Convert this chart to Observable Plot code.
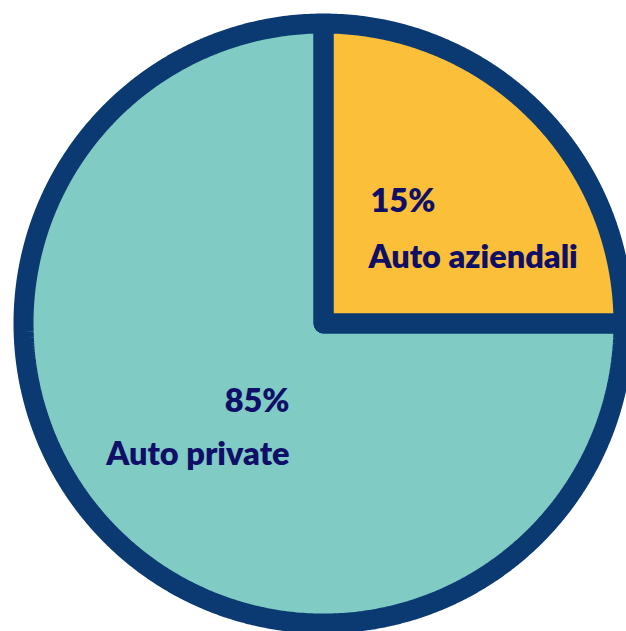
<!DOCTYPE html>
<html>
<head>
<meta charset="utf-8">
<script src="https://cdn.jsdelivr.net/npm/d3@7"></script>
<script src="https://cdn.jsdelivr.net/npm/@observablehq/plot@0.6"></script>
<style>
  html, body { margin: 0; padding: 0; background: #ffffff; }
  #chart svg { display: block; }
</style>
</head>
<body>
<div id="chart"></div>
<script>
// ---- data ----
const categories = ["Auto aziendali", "Auto private"];
const percentLabels = ["15%", "85%"];
// share of the circle each slice occupies as drawn in the picture (a quarter vs. the rest)
const drawnShares = [25, 75];
const sliceColors = ["#fbbf3a", "#80cbc4"];

// ---- build slice polygons (in pixel-like units, origin at pie centre, y up) ----
const W = 626, H = 631;
const cx = 323, cy = 323;   // pie centre in pixels
const R = 300;              // radius to middle of the border stroke

const arcs = d3.pie().sort(null).value(d => d)(drawnShares);
const polyPoints = [];
arcs.forEach((a, i) => {
  const name = categories[i];
  polyPoints.push({slice: name, x: 0, y: 0});
  const steps = Math.max(8, Math.ceil((a.endAngle - a.startAngle) / 0.01));
  for (let k = 0; k <= steps; k++) {
    const t = a.startAngle + (a.endAngle - a.startAngle) * k / steps;
    polyPoints.push({slice: name, x: R * Math.sin(t), y: R * Math.cos(t)});
  }
  polyPoints.push({slice: name, x: 0, y: 0});
});

const labelRows = categories.map((c, i) => ({slice: c, pct: percentLabels[i], name: c}));
const font = "Lato, 'Open Sans', sans-serif";
const textColor = "#0f0f68";
const fs = 32.5;

const chart = Plot.plot({
  width: W,
  height: H,
  margin: 0,
  x: {domain: [-cx, W - cx], range: [0, W], axis: null},
  y: {domain: [cy - H, cy], range: [H, 0], axis: null},
  color: {domain: categories, range: sliceColors},
  style: {background: "#ffffff", fontFamily: font},
  marks: [
    Plot.line(polyPoints, {x: "x", y: "y", z: "slice", fill: "slice", stroke: "none", curve: "linear"}),
    Plot.line(polyPoints, {x: "x", y: "y", z: "slice", fill: "none", stroke: "#0b3a72", strokeWidth: 20, strokeLinejoin: "miter", curve: "linear"}),
    // yellow slice labels
    Plot.text(labelRows.filter(d => d.slice === categories[0]), {x: () => 0, y: () => 0, text: "pct", textAnchor: "start", dx: 47, dy: -122, fontSize: fs, fontWeight: 800, fill: textColor}),
    Plot.text(labelRows.filter(d => d.slice === categories[0]), {x: () => 0, y: () => 0, text: "name", textAnchor: "start", dx: 45, dy: -66, fontSize: fs, fontWeight: 800, fill: textColor}),
    // teal slice labels
    Plot.text(labelRows.filter(d => d.slice === categories[1]), {x: () => 0, y: () => 0, text: "pct", textAnchor: "end", dx: -34, dy: 78, fontSize: fs, fontWeight: 800, fill: textColor}),
    Plot.text(labelRows.filter(d => d.slice === categories[1]), {x: () => 0, y: () => 0, text: "name", textAnchor: "end", dx: -34, dy: 131, fontSize: fs, fontWeight: 800, fill: textColor})
  ]
});
document.getElementById("chart").appendChild(chart);
</script>
</body>
</html>
